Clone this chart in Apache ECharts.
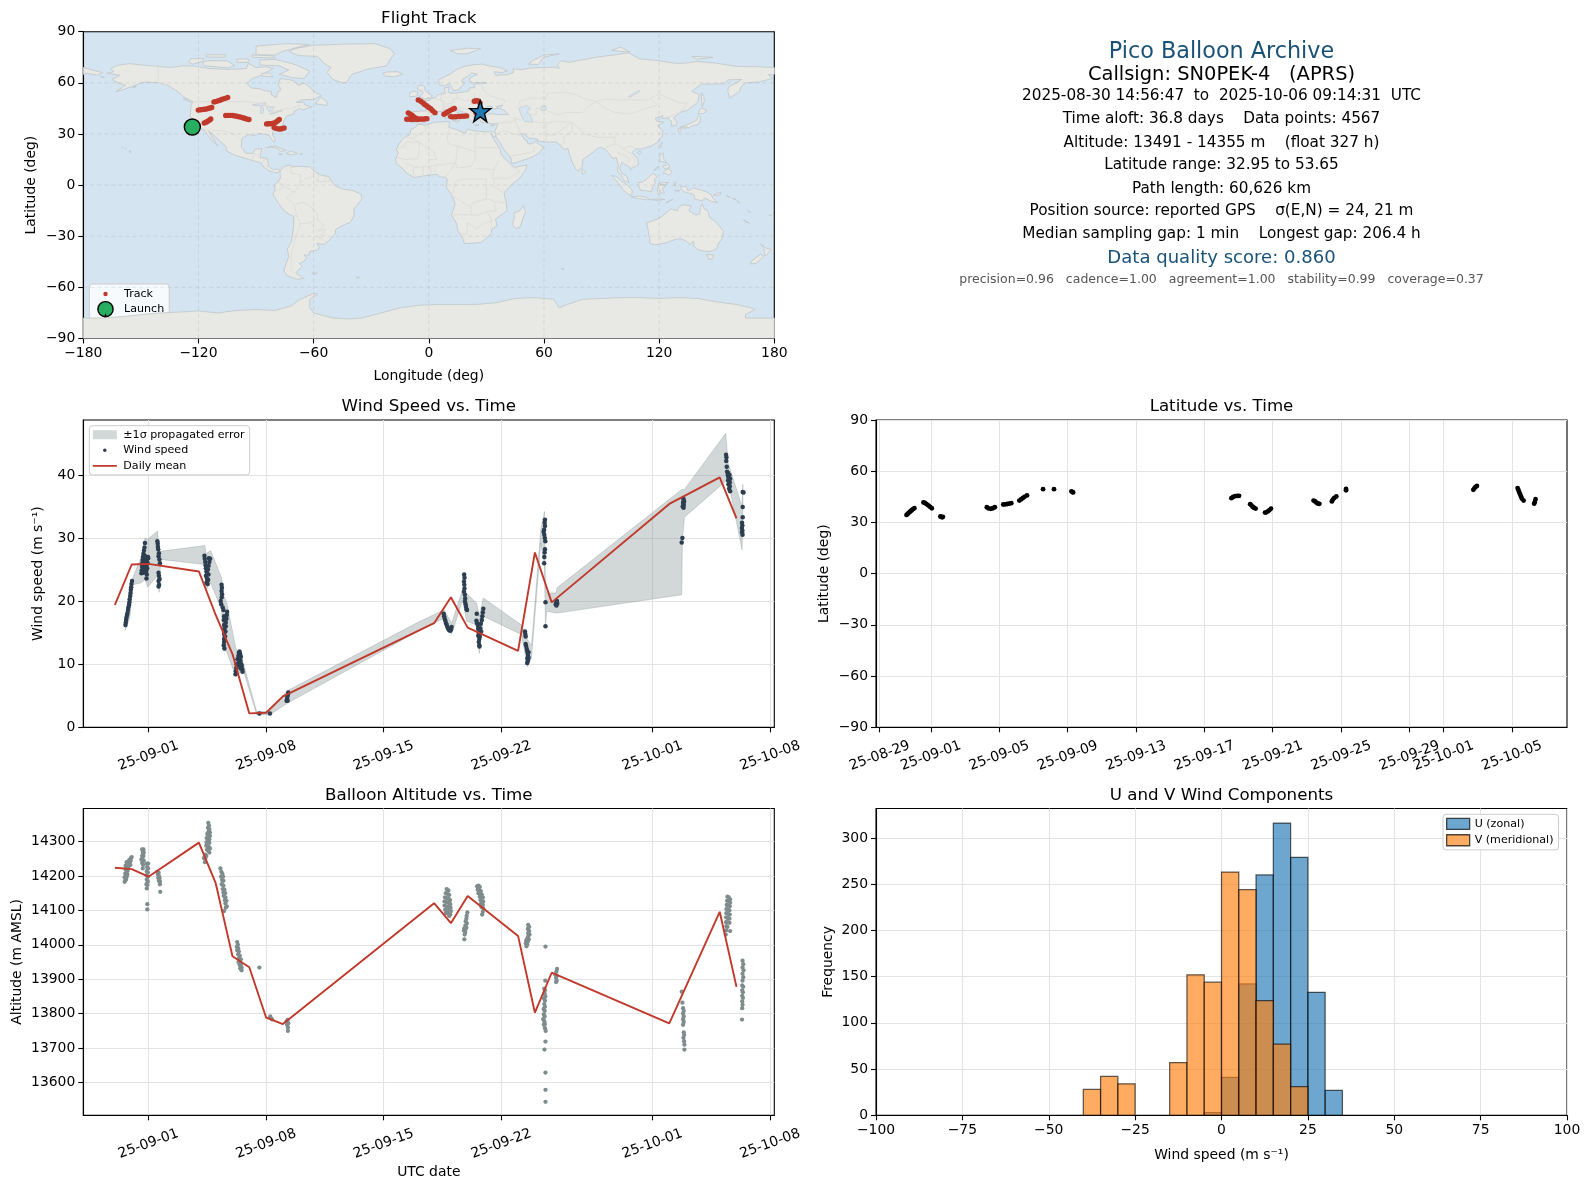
<!DOCTYPE html>
<html><head><meta charset="utf-8">
<script src="https://cdn.jsdelivr.net/npm/echarts@6/dist/echarts.min.js"></script>
<style>html,body{margin:0;padding:0;background:#fff}#c{width:1589px;height:1189px}</style>
</head><body><div id="c"></div>
<script>
// ---------- DATA (time values are days from 2025-09-01 00:00 UTC) ----------
const windSamples = [
[-1.37,16.2],[-1.35,16.6],[-1.33,17],[-1.31,17.4],[-1.28,17.8],[-1.25,18.1],[-1.22,18.6],[-1.2,19],[-1.16,19.4],[-1.14,19.8],[-1.12,20.3],[-1.09,20.8],[-1.07,21.3],[-1.05,21.8],[-1.03,22.2],[-1.01,22.7],[-0.98,23.2],
[-0.42,24.4],[-0.4,24.9],[-0.38,25.5],[-0.37,26],[-0.35,26.5],[-0.33,27],[-0.3,27.5],[-0.27,28],[-0.24,28.5],[-0.21,29.2],[-0.32,24.5],[-0.28,25],[-0.3,25.6],[-0.25,26],[-0.26,26.6],[-0.22,27.2],
[-0.12,23.6],[-0.1,24.2],[-0.13,24.8],[-0.08,25.2],[-0.12,25.6],[-0.05,26],[-0.1,26.3],[-0.02,26.8],[-0.03,27],[-0.15,26.4],[-0.18,25.4],[-0.16,24.6],
[0.53,29.5],[0.55,29.1],[0.56,28.6],[0.58,28.2],[0.62,27.6],[0.6,27.1],[0.65,26.6],[0.68,26],[0.6,24.5],[0.62,24],[0.66,23.5],[0.6,23.2],[0.63,22.6],[0.6,22.3],
[3.33,27.2],[3.35,26.7],[3.38,26.2],[3.4,25.7],[3.42,25.2],[3.45,24.7],[3.5,24.3],[3.42,24],[3.48,23.6],[3.5,23.2],[3.45,22.9],[3.52,22.7],[3.55,23.4],[3.57,24.2],[3.54,25],[3.58,25.6],[3.62,26.2],[3.67,26.7],[3.6,26.8],
[4.35,22.6],[4.37,22.1],[4.35,21.6],[4.38,21.1],[4.36,20.6],[4.3,20],[4.33,19.5],[4.42,19],[4.46,18.6],[4.68,18.3],[4.66,17.8],[4.5,17.6],[4.64,17.2],[4.48,17],[4.6,16.6],[4.5,16.2],[4.6,16],[4.52,15.6],[4.58,15.2],[4.5,14.8],[4.56,14.4],[4.5,14],[4.5,13.5],[4.48,13],[4.52,12.5],
[5.18,8.4],[5.2,8.9],[5.22,9.4],[5.25,10],[5.3,10.8],[5.35,11.3],[5.38,11.8],[5.42,12],[5.46,11.6],[5.5,11.2],[5.42,11.2],[5.48,10.6],[5.4,10.4],[5.52,10],[5.55,9.7],[5.58,9.2],[5.6,8.8],[5.4,9.8],[5.48,9.3],[5.35,10],
[6.6,2.2],[7.23,2.2],
[8.22,4.2],[8.25,4.5],[8.27,4.9],[8.3,5.2],[8.32,5.5],[8.28,4.2],
[17.57,18],[17.6,17.6],[17.63,17.2],[17.67,16.9],[17.71,16.5],[17.75,16.2],[17.79,15.9],[17.84,15.6],[17.9,15.4],[17.96,15.3],[18.01,15.5],[18.04,15.9],
[18.79,24.2],[18.81,23.7],[18.78,23.1],[18.8,22.6],[18.81,22],[18.78,21.5],[18.83,21],[18.85,20.4],[18.84,19.9],[18.88,19.5],[18.9,19.1],[18.93,18.7],[18.96,18.6],
[19.54,18],[19.52,16.9],[19.56,16.5],[19.6,16.2],[19.62,15.6],[19.66,15],[19.63,14.5],[19.69,14],[19.66,13.5],[19.69,13],[19.7,12.8],[19.75,15.7],[19.78,16.4],[19.72,14.4],[19.8,15.2],[19.84,17],[19.87,17.6],[19.9,18.2],[19.93,18.8],
[22.41,15.2],[22.43,14.8],[22.45,14.4],[22.45,13.2],[22.48,12.9],[22.52,12.4],[22.55,12],[22.58,11.6],[22.62,11.9],[22.6,11.2],[22.55,10.9],[22.58,10.5],[22.54,10.2],[22.62,11],
[23.6,32.9],[23.58,32.4],[23.6,31.9],[23.55,31.3],[23.52,31],[23.56,30.5],[23.59,30],[23.62,29.5],[23.6,28.2],[23.58,27.7],[23.56,27],[23.55,26],[23.63,19.8],[23.63,16],
[24.24,19.5],[24.27,19.7],[24.3,19.9],[24.28,19.3],[24.33,19.6],[24.31,20],
[31.74,29.3],[31.78,30],[31.83,36.3],[31.86,36],[31.82,35.6],[31.86,35.3],[31.8,35],[31.85,34.8],[31.88,35.8],[31.84,35.1],
[34.38,43.2],[34.4,42.8],[34.39,42.2],[34.42,41.3],[34.44,40.5],[34.48,40],[34.52,39.6],[34.5,39.1],[34.55,39.2],[34.6,38.8],[34.52,38.5],[34.6,38.2],[34.56,37.8],[34.62,37.4],[34.5,40.3],[34.58,40],[34.62,39.4],
[35.42,37.2],[35.37,37.3],[35.37,34.9],[35.37,33.3],[35.33,32.4],[35.35,32],[35.32,31.6],[35.35,31.2],[35.33,30.9],[35.36,30.5]
];
const bandDays = [-1.38,-1.1,-0.94,-0.41,-0.21,-0.05,0.53,0.64,0.72,3.36,3.42,3.7,4.35,4.45,4.65,5.2,5.64,6.44,7.23,8.26,16.16,17.59,18.05,18.7,18.94,19.53,19.69,19.93,22.2,22.55,22.8,23.35,23.57,23.63,23.7,24.26,24.32,31.74,31.78,31.9,34.36,34.5,35.33,35.38];
const bandLow  = [15.4,17.5,22.6,22.9,23.5,22.2,24,21.4,26.6,25.8,21.8,22.9,18.6,12.3,12,8,9.1,2,2,3.8,15.4,17.3,14.8,20.2,16.8,16.2,11.7,17.6,14.7,9.6,11,29.2,25.5,16,18.4,18.1,18.1,21,29.5,33.3,39,39.2,28.1,35];
const bandHigh = [17,21.2,23.7,27.1,30,29.8,31.1,27.9,27.9,28.8,27.5,28,23.7,21,19.9,12.5,10.2,2.5,2.5,5.8,16.8,18.6,16.5,21.9,21.2,19.7,17.6,20.5,16.2,13.9,13,31.3,34.2,21.8,21.3,21.3,22.1,37.7,37.7,37.7,46.6,41.9,35,38.5];
const windMeanDays = [-2,-1,0,3,4,5,6,7,8,17,18,19,22,23,24,31,34,35];
const windMean = [19.4,25.8,25.9,24.7,17.8,11.6,2.2,2.3,4.9,16.5,20.6,15.8,12.1,27.7,19.8,35.4,39.6,33.1];
const altMeanDays = windMeanDays;
const altMean = [14224,14220,14198,14297,14179,13967,13935,13789,13770,14121,14063,14142,14026,13803,13919,13772,14096,13878];
const altSamples = [
[-1.42,14183],[-1.38,14187],[-1.34,14190],[-1.42,14196],[-1.36,14200],[-1.3,14197],[-1.38,14207],[-1.32,14210],[-1.26,14204],[-1.38,14220],[-1.32,14222],[-1.24,14215],[-1.36,14230],[-1.28,14232],[-1.2,14226],[-1.14,14232],[-1.22,14240],[-1.12,14240],[-1.06,14244],[-1.14,14247],[-1.04,14252],[-1,14255],[-1.08,14232],[-1.3,14240],
[-0.38,14277],[-0.3,14277],[-0.34,14268],[-0.28,14268],[-0.38,14258],[-0.3,14258],[-0.42,14248],[-0.34,14248],[-0.28,14244],[-0.38,14238],[-0.32,14232],[-0.34,14222],
[-0.1,14236],[-0.02,14236],[-0.08,14226],[-0.02,14222],[-0.1,14214],[-0.03,14210],[-0.12,14202],[-0.04,14198],[-0.1,14190],[-0.04,14184],[-0.12,14176],[-0.06,14174],[-0.1,14164],[-0.07,14118],[-0.07,14103],
[0.52,14212],[0.6,14210],[0.56,14204],[0.62,14200],[0.58,14194],[0.66,14194],[0.62,14186],[0.68,14184],[0.68,14176],[0.7,14154],
[3.56,14354],[3.6,14346],[3.54,14340],[3.62,14336],[3.58,14330],[3.66,14326],[3.5,14322],[3.58,14318],[3.66,14316],[3.46,14310],[3.54,14306],[3.62,14306],[3.46,14298],[3.54,14296],[3.62,14296],[3.44,14288],[3.52,14286],[3.6,14284],[3.66,14280],[3.48,14276],[3.56,14274],[3.62,14268],[3.38,14262],[3.44,14258],[3.3,14252],[3.38,14250],[3.36,14240],
[4.28,14222],[4.34,14212],[4.4,14206],[4.32,14198],[4.44,14198],[4.38,14188],[4.46,14186],[4.36,14176],[4.46,14172],[4.42,14162],[4.52,14160],[4.46,14152],[4.56,14150],[4.48,14142],[4.58,14138],[4.54,14130],[4.64,14128],[4.58,14120],[4.66,14112],[4.6,14108],[4.5,14098],
[5.28,14008],[5.32,14000],[5.26,13994],[5.34,13990],[5.28,13984],[5.38,13980],[5.34,13972],[5.44,13968],[5.38,13960],[5.5,13958],[5.36,13950],[5.46,13950],[5.42,13942],[5.5,13942],[5.46,13932],[5.54,13934],[5.54,13926],
[6.6,13934],[7.25,13792],[7.35,13784],
[8.22,13778],[8.28,13782],[8.32,13772],[8.25,13768],[8.3,13760],[8.3,13750],
[17.75,14162],[17.85,14158],[17.7,14150],[17.8,14148],[17.9,14145],[17.65,14138],[17.76,14136],[17.86,14134],[17.95,14130],[17.62,14126],[17.74,14124],[17.86,14122],[17.96,14118],[17.62,14114],[17.74,14112],[17.86,14110],[17.98,14108],[17.66,14102],[17.78,14100],[17.9,14098],[18,14098],[17.7,14092],[17.84,14090],[17.96,14088],[17.9,14084],
[18.98,14094],[18.94,14084],[18.92,14076],[18.88,14068],[18.95,14062],[18.86,14056],[18.92,14050],[18.8,14048],[18.86,14044],[18.78,14042],[18.85,14036],[18.82,14030],[18.8,14016],
[19.56,14170],[19.64,14172],[19.72,14168],[19.6,14160],[19.7,14158],[19.78,14156],[19.64,14150],[19.74,14148],[19.84,14146],[19.72,14140],[19.82,14136],[19.9,14138],[19.76,14130],[19.86,14126],[19.92,14126],[19.8,14120],[19.9,14116],[19.82,14110],[19.92,14106],[19.9,14096],[19.86,14088],
[22.6,14058],[22.66,14052],[22.58,14046],[22.66,14040],[22.6,14034],[22.68,14030],[22.6,14024],[22.54,14018],[22.64,14016],[22.48,14012],[22.58,14010],[22.46,14004],[22.54,14002],[22.5,13996],
[23.63,13995],[23.62,13896],[23.56,13873],[23.6,13868],[23.58,13858],[23.62,13850],[23.54,13844],[23.6,13838],[23.56,13828],[23.6,13820],[23.52,13814],[23.58,13808],[23.53,13798],[23.58,13792],[23.5,13784],[23.56,13778],[23.6,13770],[23.53,13768],[23.6,13758],[23.64,13750],[23.63,13719],[23.57,13696],[23.63,13629],[23.63,13579],[23.63,13544],
[24.32,13930],[24.28,13922],[24.22,13914],[24.3,13910],[24.26,13904],[24.3,13896],[24.26,13892],
[31.74,13864],[31.78,13832],[31.82,13816],[31.86,13808],[31.82,13800],[31.86,13792],[31.82,13784],[31.86,13776],[31.82,13768],[31.86,13746],[31.88,13738],[31.84,13730],[31.88,13720],[31.9,13710],[31.9,13696],
[34.46,14140],[34.54,14138],[34.62,14132],[34.44,14128],[34.52,14128],[34.62,14122],[34.42,14116],[34.5,14114],[34.6,14112],[34.4,14104],[34.48,14102],[34.58,14100],[34.4,14092],[34.5,14090],[34.6,14088],[34.38,14080],[34.46,14078],[34.58,14076],[34.38,14066],[34.46,14066],[34.58,14064],[34.4,14054],[34.46,14052],[34.38,14042],[34.62,14040],[34.36,14030],
[35.36,13954],[35.4,13944],[35.36,13934],[35.42,13926],[35.36,13916],[35.4,13906],[35.36,13896],[35.34,13882],[35.4,13878],[35.34,13868],[35.38,13862],[35.34,13852],[35.38,13846],[35.34,13836],[35.36,13826],[35.34,13816],[35.33,13783]
];
const latSamples = [
[-1.43,34.4],[-1.36,35],[-1.3,35.6],[-1.24,36.1],[-1.18,36.7],[-1.12,37.2],[-1.05,37.8],[-0.97,38.3],
[-0.44,41.7],[-0.36,41.4],[-0.28,40.9],[-0.2,40.3],[-0.12,39.7],[-0.04,39],[0.05,38.3],
[0.55,33.5],[0.6,33.2],[0.66,33],[0.7,33.3],
[3.27,38.9],[3.38,38.2],[3.5,38],[3.62,38.3],[3.74,38.9],
[4.23,40.5],[4.35,40.6],[4.47,40.8],[4.58,41],[4.7,41.3],
[5.17,42.8],[5.27,43.5],[5.37,44.2],[5.47,45],[5.62,45.8],
[6.56,49.5],[7.2,49.5],[8.22,48.2],[8.28,47.8],[8.32,47.6],
[17.58,44.2],[17.68,44.9],[17.8,45.4],[17.92,45.5],[18.03,45.6],
[18.68,40.7],[18.75,40],[18.82,39.2],[18.9,38.6],[19,38.1],
[19.55,35.8],[19.62,35.9],[19.72,36.5],[19.8,37.2],[19.9,38.1],
[22.39,42.8],[22.48,42.3],[22.56,41.6],[22.65,41],[22.73,40.9],
[23.46,42.3],[23.52,43.4],[23.6,44.3],[23.72,45.2],
[24.29,48.8],[24.29,49.6],
[31.74,49.1],[31.8,50],[31.87,50.8],[31.95,51.4],
[34.33,50.1],[34.38,48.9],[34.43,47.6],[34.48,46.4],[34.53,45.2],[34.58,44],[34.68,42.8],
[35.3,41],[35.34,42],[35.38,43.6]
];
const trackLonLat = [
[-117,36.4],[-116,36.9],[-115.2,37.5],[-114.3,38.1],[-113.6,38.8],
[-120.1,44],[-119,44.2],[-118,44.3],[-117,44.5],[-116,44.6],[-115,44.9],[-114,45.2],[-113.1,45.5],
[-111.9,48.8],[-111,49],[-110,49.4],[-109,49.7],[-108,50.2],[-107,50.6],[-106,50.9],[-104.8,51.4],
[-105.8,40.8],[-104.6,40.9],[-103.4,40.9],[-102.2,40.8],[-101,40.6],[-100.1,40.4],[-99,40.1],[-98,39.9],[-97,39.5],[-96,39.2],[-95,38.8],[-93.7,38.5],
[-84.5,35.9],[-83.5,36],[-82.5,36],[-81.5,36.2],[-80.5,36.5],[-79.5,37],[-78.7,37.8],[-77.9,38.5],
[-80.6,33.8],[-79.6,33.3],[-78.6,33],[-77.6,32.95],[-76.6,33.1],[-75.4,33.5],
[-10.7,42.4],[-9.7,41.6],[-8.8,41],[-8,40.2],[-7,39.4],[-6,38.8],[-5.5,38.6],
[-11.5,38.6],[-10.2,38.7],[-9,38.5],[-7.8,38.6],[-6.5,38.7],[-5.2,38.6],[-4,38.8],[-2.8,38.7],[-1.8,39],[-1,39],
[-5.5,50],[-4.2,49.2],[-3,48.2],[-2,47.2],[-1,46.4],[0,45.6],[1,44.8],[2,43.6],[3.2,42.5],
[7.9,41.6],[9,42.3],[10,43],[11,43.7],[12.2,44.4],[13.3,45],
[11.4,40.2],[12.5,40],[14,40.1],[15.5,40.3],[17,40.4],[18.4,40.4],[19.7,40.6],
[23.7,49.2],[24.7,49.5],[25.7,49.3],[26.7,48.2],[24.6,42.5],[25.5,42.7]
];
const launchPoint = [-123.2,34.1];
const lastFixPoint = [26.8,43.4];
const uBinStart = [-5,0,5,10,15,20,25,30];
const uCounts   = [3,41,142,260,316,279,133,27];
const vBinStart = [-40,-35,-30,-15,-10,-5,0,5,10,15,20];
const vCounts   = [28,42,34,57,152,144,263,244,124,77,31];
const lonTicks = [-180,-120,-60,0,60,120,180];
const latTicks = [-90,-60,-30,0,30,60,90];
const windTicks = [0,10,20,30,40];
const altTicks = [13600,13700,13800,13900,14000,14100,14200,14300];
const histXTicks = [-100,-75,-50,-25,0,25,50,75,100];
const histYTicks = [0,50,100,150,200,250,300];
const wideDateTicks = ['2025-09-01','2025-09-08','2025-09-15','2025-09-22','2025-10-01','2025-10-08'];
const latDateTicks = ['2025-08-29','2025-09-01','2025-09-05','2025-09-09','2025-09-13','2025-09-17','2025-09-21','2025-09-25','2025-09-29','2025-10-01','2025-10-05'];
const infoLines = [
 ['Pico Balloon Archive',52.5,22.3,'#1a5276'],
 ['Callsign: SN0PEK-4   (APRS)',75.3,19.45,'#000'],
 ['2025-08-30 14:56:47  to  2025-10-06 09:14:31  UTC',96.5,15.28,'#000'],
 ['Time aloft: 36.8 days    Data points: 4567',119.5,15.28,'#000'],
 ['Altitude: 13491 - 14355 m    (float 327 h)',142.7,15.28,'#000'],
 ['Latitude range: 32.95 to 53.65',165.5,15.28,'#000'],
 ['Path length: 60,626 km',188.7,15.28,'#000'],
 ['Position source: reported GPS    σ(E,N) = 24, 21 m',211.5,15.28,'#000'],
 ['Median sampling gap: 1 min    Longest gap: 206.4 h',234.3,15.28,'#000'],
 ['Data quality score: 0.860',258.7,18.06,'#1a5276'],
 ['precision=0.96   cadence=1.00   agreement=1.00   stability=0.99   coverage=0.37',279.5,12.5,'#555']
];
// Coastlines as lon/lat rings
const landRings = [
[[-168,65.5],[-164,66.5],[-166,68.3],[-162,70.3],[-156,71.3],[-150,70.5],[-141,69.7],[-135,69],[-128,70],[-122,69.8],[-115,68.5],[-108,68],[-100,68],[-95,68.5],[-94,71.5],[-90,69],[-85,69.5],[-81,68.5],[-85,66],[-87,64.5],[-92,62.5],[-94.5,60],[-94,58.7],[-92.5,57],[-88,56.5],[-85,55.3],[-82,55],[-82,52.9],[-79.5,51.3],[-79,54],[-77,56],[-78.5,58.8],[-77.5,62.4],[-73,62],[-70,61],[-68,58.5],[-65,60],[-62,57.5],[-60,55],[-56,52.5],[-60,50.2],[-66,50],[-69,48.5],[-65,48.5],[-64.5,47],[-61,45.8],[-66,44],[-67,45],[-70,43.5],[-70.5,41.7],[-74,40.5],[-75.5,38],[-76,35.5],[-78,34],[-81,32],[-81.5,30],[-80,26.8],[-80.5,25.2],[-82,27],[-83,29],[-85,29.7],[-89,30.3],[-90,29.2],[-94,29.6],[-97.3,27.5],[-97.7,22.5],[-95.5,18.8],[-91.5,18.5],[-90.5,21],[-87,21.5],[-88,16],[-84,15.8],[-83.5,11],[-81,9],[-79,9.5],[-77.3,8.6],[-78.5,7.5],[-80,7.3],[-83,8.2],[-85.5,10],[-87.5,13],[-92,14.5],[-96,15.8],[-101,17.5],[-105.5,20],[-105.5,22.5],[-109,26],[-112.7,30],[-114.8,31.7],[-112.5,27.5],[-110,23],[-112,25],[-115,29],[-117.2,32.5],[-120.5,34.5],[-122.5,37.5],[-124.3,40.5],[-124,46],[-123,49],[-128,52],[-131,55],[-136,58.5],[-141,60],[-148,60.5],[-152,59],[-158,56.5],[-163,54.8],[-158,58.7],[-162,60],[-165,62],[-161,64.5]],
[[-9,37],[-9.5,38.7],[-8.8,41.5],[-9.2,43],[-4,43.5],[-1.5,43.4],[-1.2,46],[-2.5,47.3],[-4.7,48.4],[-1.5,48.7],[-1.5,49.7],[0.2,49.6],[1.6,50.9],[3.5,51.4],[4.7,52.9],[7,53.6],[8.7,53.9],[8.2,55.5],[8.2,57],[10.5,57.7],[10.3,56],[10,54.6],[11,54],[14,54],[18.5,54.7],[21,55.3],[21,57],[24,57.2],[23.5,59.2],[28,59.6],[30.2,60],[25,60.2],[22.9,59.9],[21.3,61],[21.3,62.8],[25.3,65],[22.3,65.8],[21,64.5],[17.5,62],[17.2,60.7],[18.8,59.8],[16.6,57.5],[16,56.2],[14.3,55.5],[12.8,55.5],[11.2,58.9],[10.5,59.5],[8,58.1],[5.5,59],[5,61.5],[8,63.5],[11,65],[14,67.5],[18,69.5],[23,70.6],[28,71],[31,70],[37,69],[41,67],[38,66],[34,66.5],[35,64.3],[38,64.8],[40.5,64.6],[44,66],[44,68.3],[48,67.7],[53,68.7],[60,69],[65,69.2],[68,68.5],[67,71],[69,73],[73,72],[75,72.5],[80,73.5],[87,75],[94,76],[104,77.6],[110,74],[113,73.7],[120,73],[128,71.5],[133,71.5],[140,72.5],[150,71.5],[160,69.7],[170,69.5],[180,69],[180,65],[177,64.7],[179,62.5],[172,60.5],[165,60],[163,58],[162,55],[158,52],[156.7,51],[155.8,55],[156,57.5],[161,60.5],[163,62],[156,61.7],[154,59.5],[148,59.3],[142,59.2],[137,55],[141,53],[140,48.5],[135,44],[131,42.7],[129.5,41],[127.5,39.7],[129.4,37],[129,35.2],[126.5,34.5],[126.5,37.5],[125,38.5],[125,39.7],[121.5,39],[122,40.7],[118,39.2],[119,37.3],[122.5,37],[119.3,35],[122,31.5],[121.5,28.5],[119,25],[116,22.9],[113,22],[110,21],[108,21.5],[105.8,19],[108.8,15.5],[109.3,12],[106,10],[105,8.7],[105,10.3],[102.5,12],[100.8,13.5],[100,12],[99.5,9.5],[100.5,7],[103.2,5],[104.2,1.4],[101.5,2.8],[100.3,5.8],[98.3,8],[98.7,12],[97.7,16],[95.5,15.8],[94.3,18],[92,21],[90,22],[88,21.7],[86.5,20],[82.3,16.7],[80.2,15],[80,11],[77.6,8],[76,10.5],[74.5,14],[73,19],[72.6,21.3],[70,21],[68.8,23.2],[66.5,25.3],[61.5,25.2],[57.5,25.7],[56.5,27],[52,27.5],[50,30],[48,30],[50,26.5],[51.3,26],[51.5,24.3],[54,24.2],[56.3,26.2],[56.6,24.5],[59.8,22.5],[57.8,19],[55,17],[52,15.7],[45,13],[43.3,12.8],[42.7,16],[39,21],[37,25],[35,28],[34.9,29.5],[34.3,31.3],[35,33],[36,36],[32.5,36],[30.5,36.5],[27.5,36.8],[26.3,39.3],[29,41],[33,42],[36,41.3],[41.5,41.5],[39,44],[37,45],[38.5,47],[35,46],[36.5,45.2],[33.5,44.5],[33,46],[30.8,46.5],[28.7,44],[28,41.7],[26.2,40.7],[24,40.8],[23,40.3],[24,38],[22.8,36.5],[21,38.5],[19.4,41],[19.5,42],[15.5,44],[13.7,45.6],[12.3,45.3],[12.3,44.2],[16,41.8],[18.4,40.1],[16.6,40],[17,39],[15.8,38],[15.8,40],[12.5,41.5],[10.5,42.8],[8.8,44.4],[6.5,43.2],[3.2,43.2],[3,41.8],[0,40],[-0.3,38.7],[-2,36.8],[-5.5,36],[-6.5,37]],
[[-6,35.8],[-2,35.2],[3,36.9],[10,37.3],[11,36.9],[10.3,34],[15,32.3],[19,30.3],[20,32.8],[25,31.7],[30,31.2],[32.5,31.2],[34.3,31.3],[34.9,29.5],[34.3,28],[32.6,29.9],[33.8,27],[35.8,23.5],[37.3,21],[37.5,18.5],[39.5,15.5],[43,12],[43.3,11.5],[44.5,10.4],[51.2,11.8],[50.5,9],[47.5,4.2],[42,-1],[39.3,-4.5],[39.5,-7],[40.5,-10.5],[40.7,-15],[36.5,-18.5],[34.8,-20],[35.5,-24],[32.8,-25.8],[32.5,-28.5],[30,-31.3],[27,-33.7],[22,-34.2],[18.5,-34.3],[18,-32],[15,-26.5],[14.5,-22.5],[11.8,-17.5],[13.7,-11],[12,-6],[9,-1],[9.7,3.5],[8.5,4.6],[5.5,4.8],[4.5,6.3],[1,5.9],[-4,5.2],[-7.5,4.4],[-11.5,6.9],[-13.5,9.5],[-16.7,12.5],[-17.4,14.7],[-16,19],[-17,21.2],[-14.5,26],[-13,27.8],[-9.7,29.8],[-9.5,32.5],[-6.5,34.3]],
[[-77.3,8.6],[-75.5,10.8],[-72,12],[-71.5,10.7],[-68,11],[-62,10.7],[-60,8.5],[-57,6],[-52,5],[-50,1],[-48,-1],[-44,-2.5],[-40,-3],[-35.3,-5.3],[-34.8,-8],[-37,-11.5],[-39,-14],[-39,-18],[-41,-22],[-44,-23.2],[-48.5,-26],[-48.8,-28.6],[-52.5,-33],[-54.5,-34.9],[-58.4,-34.2],[-57,-36.5],[-57.7,-38],[-62,-39],[-62.3,-41],[-65,-41],[-63.7,-42.7],[-65.3,-45],[-67.5,-46],[-65.8,-47.5],[-69,-51],[-68.3,-52.5],[-65.2,-54.8],[-69,-55.3],[-74,-53],[-75.5,-50],[-74,-45],[-73,-42],[-73.7,-37.5],[-71.5,-33],[-70.5,-25],[-70.3,-18.5],[-75,-15.5],[-77.5,-12],[-81,-6],[-81,-4.3],[-80,-2.5],[-80.5,0],[-78.5,2],[-77.3,4],[-77.5,7]],
[[-73,78.5],[-68,76],[-58,75.5],[-54,71],[-51,69],[-53,66],[-50,62],[-45,60],[-43,60],[-40,65],[-32,68],[-22,70],[-20,74],[-18,77],[-20,80],[-28,83],[-45,82.7],[-60,82],[-68,80.5]],
[[-80,73.7],[-72,71.5],[-68,70],[-62,66.8],[-65,62.5],[-71,63],[-78,65],[-73,67.5],[-78,70],[-88,70.5],[-88,73.5]],
[[-117,70],[-105,68.8],[-101,70],[-105,73],[-115,73],[-118,72]],
[[-125,72],[-123,71],[-118,72.5],[-117,74.2],[-124,74.2]],
[[-90,76.5],[-80,76.3],[-76,78.5],[-68,81],[-62,82.5],[-75,83],[-90,81.5],[-90,79]],
[[-92,75],[-80,74.6],[-81,75.8],[-92,76.4]],
[[-116,75.2],[-106,75],[-106,76.5],[-116,76.5]],
[[-100,72],[-94,72],[-94,74],[-100,74]],
[[-87,64],[-81,63.5],[-83,65.8],[-87,65.5]],
[[-59,47.7],[-53,46.7],[-53,49],[-56,51.5],[-58,49.5]],
[[-128,50.5],[-123.5,48.4],[-125,50.3]],
[[-85,21.9],[-80,23.1],[-74.2,20.2],[-77.5,19.9],[-78.5,21.5],[-82,22.4]],
[[-74.4,18.5],[-72,20],[-68.4,18.6],[-71.5,17.8]],
[[-78.3,18.3],[-76.3,18.1],[-77,17.8]],
[[-67.2,18.4],[-65.7,18.3],[-66.5,17.9]],
[[-24,65.5],[-22,66.4],[-16,66.5],[-13.6,65],[-18,63.5],[-22.5,63.9]],
[[-5.7,50],[1.3,51.2],[1.7,52.7],[0,53.5],[-2,55.8],[-2,57.6],[-3.5,58.6],[-5.2,58.5],[-6,56.5],[-3,54.9],[-3.2,53.4],[-5,52],[-3.2,51.3]],
[[-10,51.8],[-6.2,52.2],[-5.7,54.6],[-8,55.2],[-10,54]],
[[11,79],[20,80.3],[27,80],[20,77],[15,77]],
[[52,71],[57,70.7],[60,75],[68,77],[60,76.3],[54,73]],
[[95,79],[105,78],[100,81]],
[[137,75.5],[148,75],[140,73.8]],
[[12.5,38],[15.5,38.2],[15,36.7]],
[[8.3,41],[9.7,41],[9.5,39.1],[8.5,39]],
[[8.7,42.9],[9.5,43],[9.3,41.5]],
[[23.6,35.5],[26.2,35.2],[24.5,34.9]],
[[32.3,35],[34.5,35.6],[33.5,34.6]],
[[80,9.7],[81.8,7.5],[80.5,6],[79.8,8]],
[[142,54.3],[143.3,52],[143.5,49],[142.5,46],[142,49.5]],
[[140.3,42],[141.8,45.4],[145,43.8],[143,42]],
[[130.9,34],[135,35.6],[139.5,38],[140.5,41.2],[141.8,39.8],[140.8,35.7],[137,34.6],[135.7,33.5],[132.5,34.2]],
[[130,33.3],[131.8,33.5],[131,31.2],[130.2,31.3]],
[[132.5,33.8],[134.5,34.2],[134,33.3],[133,32.8]],
[[120.2,23],[121.5,25.2],[121.8,24.8],[120.8,22]],
[[108.8,19.3],[110.5,20],[110.8,19],[109.5,18.2]],
[[120.3,16],[120.7,18.5],[122.2,18.4],[122,16],[124,13],[122,13.7],[120.6,14]],
[[122,7],[123.5,8.6],[125.5,9.7],[126.5,7.5],[125.4,5.7],[124,6.5]],
[[122,11],[125,12.5],[125.5,10.5],[123,9.3]],
[[117.2,8.4],[119.5,11.3],[119.5,10.3]],
[[109,1.5],[111,1.6],[113,3.2],[115,5],[116.8,7],[119,5],[117.5,3.5],[118,1],[116.5,-1.5],[116,-4],[113,-3.3],[110.3,-3],[109,0]],
[[95.3,5.6],[97.5,5.2],[100.5,2.2],[103.5,0],[106,-3],[105.8,-5.8],[104,-5.5],[101,-2.5],[98.5,1.5]],
[[105.3,-6.8],[108.5,-6.5],[111,-6.5],[114.5,-7.7],[114.4,-8.7],[108,-7.8]],
[[115,-8.5],[119,-8.3],[123,-8.4],[119,-9]],
[[123.5,-10.3],[127,-8.4],[125,-9.9]],
[[119.8,0.8],[121,1.3],[125,1.6],[123.5,0.4],[120.5,0.3],[123.3,-0.9],[121.5,-2],[122.8,-4.5],[121.6,-4.8],[120.5,-3],[120.3,-5.5],[119.5,-5.5],[119,-3],[119.8,0]],
[[127.5,0.8],[128.5,2],[128.5,-0.8]],
[[128,-3],[130.8,-3.3],[129,-3.5]],
[[131,-0.8],[134,-0.8],[135,-3.3],[138,-1.6],[144.5,-3.8],[147.5,-6],[147.8,-7.5],[150.5,-10.4],[147,-9.5],[144,-7.7],[142.5,-9.2],[138.5,-8.3],[138,-5.5],[133,-4],[132,-2.8]],
[[148.3,-5.6],[152,-4.2],[152,-5.5],[150,-6.3]],
[[155,-6],[157,-7],[156,-7]],
[[158,-7.5],[160,-8.5],[159,-8.5]],
[[160.5,-9],[162,-10.5],[161,-10]],
[[166.5,-15],[167.5,-16],[167,-16]],
[[164,-20.2],[167,-22.3],[165,-21.8]],
[[177.3,-17.5],[178.6,-17.8],[178,-18.3]],
[[113.5,-22],[114.2,-26],[115,-31.5],[115.2,-34.3],[118,-35],[123.5,-33.9],[129,-31.6],[131.5,-31.5],[134,-32.8],[136,-34.8],[138,-33],[138,-35.6],[140,-37.8],[143.5,-38.8],[146.4,-39],[150,-37.3],[151,-34],[153,-31],[153.5,-27],[151,-23.5],[149,-21],[146.3,-19],[145.3,-15],[143.5,-14],[142.5,-10.8],[141.6,-13],[141,-17],[139,-17.5],[135.5,-15],[136.8,-12.2],[132.5,-11.5],[130,-13],[129.5,-15],[126,-14],[122,-18],[119,-20],[114.5,-21.8]],
[[144.7,-40.7],[148.3,-40.9],[148,-43],[146,-43.6]],
[[172.8,-34.5],[175.8,-37],[178.3,-37.7],[176.9,-40],[175.2,-41.6],[174.8,-39.5],[174.5,-37]],
[[172.7,-40.6],[174.3,-41.7],[172.8,-43.8],[170.5,-46],[167.5,-46.3],[168.5,-44.2]],
[[49.3,-12],[50.4,-15.5],[47.5,-24.7],[45.2,-25.5],[43.5,-23.3],[44.5,-19.5],[44.5,-16.3],[47.5,-15]],
[[-156,20.2],[-155,19.6],[-155.7,19]],
[[-159.8,22.2],[-159.2,22],[-159.5,21.8]],
[[-158.2,21.6],[-157.7,21.4],[-158,21.2]],
[[69,-48.9],[70.5,-49.2],[69.5,-49.6]],
[[-61,-51.7],[-58,-51.5],[-59,-52.3]],
[[-38,-54],[-36,-54.2],[-37,-54.6]],
[[-180,65],[-180,69],[-175,67.5],[-170,66],[-172.5,64.5],[-178,65.5]],
[[-171,63.8],[-169,63.3],[-170,63.2]],
[[-154.5,57.5],[-152.5,58],[-153,57.2]],
[[-180,-90],[-180,-78],[-170,-78],[-158,-77],[-150,-76],[-140,-75],[-130,-74.5],[-120,-73.8],[-110,-75],[-100,-73.5],[-90,-73],[-80,-73.5],[-72,-71],[-67,-67],[-60,-63.5],[-58,-64],[-62,-67],[-62,-72],[-60,-75],[-50,-78],[-42,-78.5],[-35,-78],[-28,-76],[-15,-72],[-5,-70.5],[5,-70],[15,-70],[25,-70],[35,-69],[45,-66.5],[55,-66],[65,-67],[68,-72],[72,-70],[75,-69],[80,-67],[90,-66.5],[100,-66],[110,-66],[120,-66.5],[130,-66],[140,-66.5],[150,-68.5],[160,-70],[168,-72],[170,-73],[165,-76],[165,-78],[180,-78],[180,-90]]
];
const inlandSeas = [
[[47,45],[51,46.8],[53,45],[51,43],[53,41],[54,37],[50,37.3],[49,39],[47.5,43]],
[[58.5,46],[61,46.5],[61,44],[58.5,44]],
[[104,52],[109,55.5],[110,55],[105,51.6]],
[[-92,47],[-85,48.5],[-85,46.5],[-90,46.6]],
[[-87.5,46],[-86,45],[-86.5,42],[-87.7,42]],
[[-84.5,46],[-80.5,45.8],[-81.8,43.2],[-83.5,43.5]],
[[-83,42],[-79,43],[-78.7,42.8],[-82.5,41.5]],
[[-79.5,43.5],[-76.3,44],[-76.5,43.3],[-79.5,43.2]]
];
const borderLines = [
[[-123,49],[-95,49],[-88,48],[-83,46],[-82,43],[-79,43],[-75,45],[-71,45],[-67.5,47],[-67,45]],
[[-141,69.7],[-141,60],[-135,58.5]],[[-117,32.5],[-106,31.7],[-101,29.5],[-97.3,26]],
[[-92,14.5],[-91,18],[-89,18],[-88,16]],[[-87.5,13],[-84,15.8]],[[-85.5,11],[-83.7,11]],[[-83,8.2],[-82.7,9.5]],
[[-72,12],[-72,7],[-67,6],[-67,1],[-70,-4],[-74,-7.5],[-70,-11],[-69,-17]],[[-60,8.5],[-60,5],[-64,4],[-67,1]],[[-57,6],[-58,2]],[[-54,5.5],[-54,2]],[[-52,4.5],[-52,2],[-58,2],[-60,5]],
[[-80,-3.5],[-75,-1],[-70,-4]],[[-78.5,1.5],[-75,0]],[[-69,-11],[-65,-10],[-60,-14],[-58,-17],[-58,-20],[-62,-22],[-67,-22.8],[-69,-17.5],[-70.3,-18.5]],
[[-58,-20],[-54.5,-24],[-58,-27],[-62,-22]],[[-67,-22.8],[-70,-33],[-71.5,-40],[-72,-50],[-68.5,-52.5]],[[-58,-27],[-54,-26],[-58,-33]],[[-57.5,-30],[-53.5,-33.5]],
[[-2,35],[-1.5,32],[-8.7,27.5],[-13,27.7]],[[-8.7,27.5],[-4.8,25],[3,19]],[[-4.8,25],[-12,25.5],[-12,23],[-17,21.3]],[[-16.5,16],[-12,15],[-5.5,15.5],[-4.8,25]],[[3,19],[4,15],[0,15]],
[[11,33],[9.5,30],[10,24.5],[12,23.5],[15,23],[24,19.5],[24,31.5]],[[25,22],[36.8,22]],[[15,23],[14,13],[15,10],[22,11],[24,15],[24,19.5]],[[24,10],[34,9],[33,4],[42,4],[47.5,8],[43,11]],[[36.5,14.5],[34,9]],
[[3,7],[3.5,11.7],[14,13]],[[14,13],[9,5]],[[12.5,-5],[13,-2],[14,2],[18,3.5],[30,3.5],[30,-8],[22,-11],[22,-13],[12,-6]],[[34,4],[34,-1],[39.3,-4.5]],[[30,-8],[34,-9.5],[40.5,-10.5]],
[[11.8,-17.3],[23,-17.5],[25,-18]],[[20,-22],[20,-28.5],[16.5,-28.5]],[[20,-22],[25,-25.5],[29,-22.3],[33,-21]],[[34,-9.5],[35,-15],[30,-15.5],[33,-20],[32,-26]],[[22,-13],[22,-17.5]],[[25,-18],[30,-15.5]],
[[-8,4.5],[-8,10],[-5.5,10.5]],[[-3,5],[-3,11]],[[1,6],[1,11]],[[-12,12.5],[-5.5,10.5],[1,11],[3.5,11.7]],
[[28,60],[28,56],[32,52.3],[40,49.7],[38.5,47]],[[48,45.5],[47,49],[52,51],[61,51],[62,54],[71,54.5],[77,53],[80,51],[87,49],[92,50.5],[98,50],[107,50],[114,50],[120,53.5],[127,50],[131,48],[135,48.3],[131,43]],
[[87,49],[92,45],[97,42.7],[105,41.7],[112,44.5],[119,47],[116,50]],[[53,41.5],[56,41.3],[56,45],[61,44],[67,41],[71,42.8],[80,42.5],[82,45],[87,49]],[[48,38],[44.5,39.5],[46,35],[48,30]],[[61,36.5],[61,31],[61.5,25.2]],[[54,37],[61,36.5]],
[[61,36.5],[67,37.3],[74,37],[71,34],[66,29.5],[61,29.5]],[[74,37],[75,32],[70,28],[71,24.5],[68.5,23.7]],[[74,37],[79,32.5],[81,30],[88,28],[97,28],[97,24],[92,22]],[[98,24],[101,21.5],[105,23],[108,21.5]],[[101,21.5],[105,18.5],[107.5,14.5],[106,11]],[[98,19],[101,18],[105,15],[103,13]],
[[36,36.5],[42,37],[44.5,37.3],[44.5,39.5]],[[35,29.5],[39,32],[47.5,29]],[[43,17],[52,19],[55,20],[55,22.7]],[[125,40],[130,42.5]],
[[-1.7,43.4],[3,42.5]],[[2.5,51],[8,49],[7.5,47.5],[7.5,44]],[[7,53.5],[6,50],[8,49]],[[14.3,54],[15,51],[12.3,50.3],[13.5,48.5],[9.5,47.5],[7.5,47.5]],[[7.5,46],[13.7,46.5]],[[15,51],[19,49.5],[24,50.5],[23.5,54]],[[24,50.5],[22,48],[29,45.5]],[[22,48],[20.5,46],[22.5,44],[28.5,43.8]],[[13.7,45.5],[19.5,45],[22.5,44],[21,40.5]],[[-8.8,42],[-7,41.5],[-7,37.2]]
];

// ---------- HELPERS ----------
const T0 = Date.UTC(2025,8,1);
const dayMs = 864e5;
const toMs = d => T0 + d*dayMs;
const parseDate = s => Date.parse(s+'T00:00:00Z');
const shortDate = v => new Date(v).toISOString().slice(2,10);
const minusFmt = v => String(v).replace('-','\u2212');
const FONT = 'DejaVu Sans';
const LEFT1=83.3, LEFT2=876, W=691;
const grids = [
 {left:LEFT1,top:31.7,width:W,height:306.8,show:true,backgroundColor:'#d4e5f1',borderColor:'#000',borderWidth:1.1,z:0},
 {left:LEFT1,top:420,width:W,height:307.3,show:true,borderColor:'#000',borderWidth:1.1},
 {left:LEFT2,top:420,width:W,height:307.3,show:true,borderColor:'#000',borderWidth:1.1},
 {left:LEFT1,top:808.5,width:W,height:306.8,show:true,borderColor:'#000',borderWidth:1.1},
 {left:LEFT2,top:808.5,width:W,height:306.8,show:true,borderColor:'#000',borderWidth:1.1}
];
const gridLine = {show:true,lineStyle:{color:'#e3e3e3',width:1.1}};
const axisBase = (gi,ticks,min,max,fmt,extra) => Object.assign({
  type:'value',gridIndex:gi,min,max,
  axisLine:{show:true,onZero:false,lineStyle:{color:'#000',width:1.1}},
  axisTick:{show:true,length:5,customValues:ticks,lineStyle:{color:'#000',width:1.1}},
  axisLabel:{show:true,customValues:ticks,formatter:fmt,color:'#000',fontFamily:FONT,fontSize:13.9,margin:8},
  splitLine:gridLine,
  nameTextStyle:{color:'#000',fontFamily:FONT,fontSize:13.9},
  nameLocation:'middle'
},extra||{});
const yLabelPad = a => { a.axisLabel.padding=[3,0,0,0]; return a; };
const wideTicks = wideDateTicks.map(parseDate), latTimeTicks = latDateTicks.map(parseDate);
const dateLabel = (gi,ticks,min,max,extra) => {
  const a = axisBase(gi,ticks,toMs(min),toMs(max),shortDate,extra);
  a.axisLabel = Object.assign(a.axisLabel,{rotate:20,align:'center',verticalAlign:'middle',margin:28.5});
  return a;
};
const xAxes = [
 axisBase(0,lonTicks,-180,180,minusFmt,{name:'Longitude (deg)',nameGap:30.5,splitLine:{show:false}}),
 dateLabel(1,wideTicks,-3.88,37.25),
 dateLabel(2,latTimeTicks,-3.216,37.22),
 dateLabel(3,wideTicks,-3.88,37.25,{name:'UTC date',nameGap:50.5}),
 axisBase(4,histXTicks,-100,100,minusFmt,{name:'Wind speed (m s\u207B\u00B9)',nameGap:33.5})
];
const yAxes = [
 yLabelPad(axisBase(0,latTicks,-90,90,minusFmt,{name:'Latitude (deg)',nameGap:45,splitLine:{show:false}})),
 yLabelPad(axisBase(1,windTicks,0,48.7,String,{name:'Wind speed (m s\u207B\u00B9)',nameGap:38})),
 yLabelPad(axisBase(2,latTicks,-90,90,minusFmt,{name:'Latitude (deg)',nameGap:45})),
 yLabelPad(axisBase(3,altTicks,13505,14396,String,{name:'Altitude (m AMSL)',nameGap:59})),
 yLabelPad(axisBase(4,histYTicks,0,331.8,String,{name:'Frequency',nameGap:41}))
];
const panelTitle = (text,x,y) => ({text,left:x,top:y,textAlign:'center',textVerticalAlign:'middle',padding:0,
  textStyle:{fontFamily:FONT,fontSize:16.67,fontWeight:'normal',color:'#000'}});
const CX1=LEFT1+W/2, CX2=LEFT2+W/2;
const titles = [
 panelTitle('Flight Track',CX1,18.5),panelTitle('Wind Speed vs. Time',CX1,406.5),panelTitle('Latitude vs. Time',CX2,406.5),
 panelTitle('Balloon Altitude vs. Time',CX1,795.5),panelTitle('U and V Wind Components',CX2,795.5)
].concat(infoLines.map(l=>({text:l[0],left:CX2,top:l[1],textAlign:'center',textVerticalAlign:'middle',padding:0,
  textStyle:{fontFamily:FONT,fontSize:l[2],fontWeight:'normal',color:l[3]}})));

// All rings of one layer are drawn as a single custom item holding one child per ring
const ringSeries = (name,rings,style,closed,z) => ({
  type:'custom',name,xAxisIndex:0,yAxisIndex:0,z,silent:true,clip:true,
  data:[[0]],encode:{x:-1,y:-1},
  renderItem:(p,api)=>({type:'group',children:rings.map(r=>({type:closed?'polygon':'polyline',
    shape:{points:r.map(c=>api.coord(c))},style:Object.assign({},style)}))})
});
const graticule = lonTicks.slice(1,-1).map(l=>[[l,-90],[l,90]]).concat(latTicks.slice(1,-1).map(l=>[[-180,l],[180,l]]));
const barSeries = (name,starts,counts,fill,gi,z) => ({
  type:'custom',name,xAxisIndex:gi,yAxisIndex:gi,z,clip:true,
  itemStyle:{color:fill},
  data:starts.map((s,i)=>[s,counts[i]]),encode:{x:0,y:1},
  renderItem:(p,api)=>{
    const a=api.coord([api.value(0),api.value(1)]), b=api.coord([api.value(0)+5,0]);
    return {type:'rect',shape:{x:a[0],y:a[1],width:b[0]-a[0],height:b[1]-a[1]},
      style:{fill,stroke:'rgba(0,0,0,.62)',lineWidth:1.25}};
  }
});
const bandStyle = {fill:'rgba(127,140,141,.35)',stroke:'rgba(127,140,141,.3)',lineWidth:1};
const star = 'M10 0L12.35 6.76L19.51 6.91L13.8 11.24L15.88 18.09L10 14L4.12 18.09L6.2 11.24L0.49 6.91L7.65 6.76Z';
const dotIcon = (w,h,r) => {const cx=w/2,cy=h/2;return `path://M0 0L0.01 0M${w} ${h}L${w-.01} ${h}M${cx-r} ${cy}A${r} ${r} 0 1 0 ${cx+r} ${cy}A${r} ${r} 0 1 0 ${cx-r} ${cy}Z`;};
const boxIcon = (w,h,x0,y0,x1,y1) => `path://M0 0L0.01 0M${w} ${h}L${w-.01} ${h}M${x0} ${y0}L${x1} ${y0}L${x1} ${y1}L${x0} ${y1}Z`;
const starIcon = 'path://M0 0L0.01 0M27 20L26.99 20M13.5 0L15.85 6.76L23.01 6.91L17.3 11.24L19.38 18.09L13.5 14L7.62 18.09L9.7 11.24L3.99 6.91L11.15 6.76Z';
const legendBase = {orient:'vertical',backgroundColor:'rgba(255,255,255,.8)',borderColor:'#ccc',borderWidth:1,borderRadius:3,
  textStyle:{fontFamily:FONT,fontSize:11.1,color:'#000'},selectedMode:false};
const legends = [
 Object.assign({},legendBase,{left:89.3,top:284,padding:[0,5,0,2],itemWidth:27,itemHeight:20,itemGap:-5.5,
   data:[
    {name:'Track',icon:dotIcon(27,20,2.2),itemStyle:{color:'#c0392b',borderWidth:0}},
    {name:'Launch',icon:dotIcon(27,20,7.6),itemStyle:{color:'#27ae60',borderColor:'#000',borderWidth:1.4}},
    {name:'Last fix',icon:starIcon,itemStyle:{color:'#1f77b4',borderColor:'#000',borderWidth:1.4}}
   ]}),
 Object.assign({},legendBase,{left:89.3,top:425.7,padding:[3,5,3,2],itemWidth:27,itemHeight:12,itemGap:3.6,
   data:[
    {name:'\u00B11\u03C3 propagated error',icon:boxIcon(27,12,1.5,1.5,25.5,10.5),itemStyle:{color:'rgba(127,140,141,.35)',borderWidth:0}},
    {name:'Wind speed',icon:dotIcon(27,12,1.8),itemStyle:{color:'#2c3e50',borderWidth:0}},
    {name:'Daily mean',icon:boxIcon(27,12,1.5,5.2,25.5,6.9),itemStyle:{color:'#c0392b',borderWidth:0}}
   ]}),
 Object.assign({},legendBase,{left:1443,top:814.3,padding:[3.5,5,3.5,3],itemWidth:23,itemHeight:11,itemGap:4,
   data:[
    {name:'U (zonal)',icon:'rect',itemStyle:{color:'rgba(31,119,180,.65)',borderColor:'rgba(0,0,0,.7)',borderWidth:1.3}},
    {name:'V (meridional)',icon:'rect',itemStyle:{color:'rgba(255,127,14,.65)',borderColor:'rgba(0,0,0,.7)',borderWidth:1.3}}
   ]})
];
const scatter = (name,data,gi,color,size,z,extra) => Object.assign({
  type:'scatter',name,xAxisIndex:gi,yAxisIndex:gi,data,symbolSize:size,itemStyle:{color,opacity:1},z,silent:true
},extra||{});
const meanLine = (name,days,vals,gi) => ({type:'line',name,xAxisIndex:gi,yAxisIndex:gi,symbol:'none',silent:true,z:6,
  data:days.map((d,i)=>[toMs(d),vals[i]]),lineStyle:{color:'#c0392b',width:1.9},itemStyle:{color:'#c0392b'}});

const series = [
 ringSeries('Land',landRings,{fill:'#e8e8e4',stroke:'#c3c9cc',lineWidth:0.9},true,6),
 ringSeries('Inland seas',inlandSeas,{fill:'#d4e5f1',stroke:'#c3c9cc',lineWidth:0.7},true,6),
 ringSeries('Borders',borderLines,{fill:'none',stroke:'#dcdcd8',lineWidth:0.9},false,6),
 ringSeries('Graticule',graticule,{fill:'none',stroke:'rgba(120,120,120,.2)',lineWidth:0.8,lineDash:[4,3]},false,6),
 scatter('Track',trackLonLat,0,'#c0392b',5.4,7),
 scatter('Launch',[launchPoint],0,'#27ae60',16,8,{itemStyle:{color:'#27ae60',borderColor:'#000',borderWidth:1.4,opacity:1}}),
 scatter('Last fix',[lastFixPoint],0,'#1f77b4',21,9,{symbol:'path://'+star,itemStyle:{color:'#1f77b4',borderColor:'#000',borderWidth:1.4,opacity:1}}),
 {type:'custom',name:'\u00B11\u03C3 propagated error',xAxisIndex:1,yAxisIndex:1,z:2,silent:true,clip:true,
  itemStyle:{color:'rgba(127,140,141,.35)'},data:[[0]],encode:{x:-1,y:-1},
  renderItem:(p,api)=>{
    const up=bandDays.map((d,i)=>api.coord([toMs(d),bandHigh[i]]));
    const lo=bandDays.map((d,i)=>api.coord([toMs(d),bandLow[i]])).reverse();
    return {type:'polygon',shape:{points:up.concat(lo)},style:bandStyle};
  }},
 scatter('Wind speed',windSamples.map(p=>[toMs(p[0]),p[1]]),1,'#2c3e50',4.5,4),
 meanLine('Daily mean',windMeanDays,windMean,1),
 scatter('Latitude',latSamples.map(p=>[toMs(p[0]),p[1]]),2,'#000',4.8,4),
 scatter('Altitude',altSamples.map(p=>[toMs(p[0]),p[1]]),3,'#7f8c8d',4.3,4),
 meanLine('Altitude daily mean',altMeanDays,altMean,3),
 barSeries('U (zonal)',uBinStart,uCounts,'rgba(31,119,180,.65)',4,3),
 barSeries('V (meridional)',vBinStart,vCounts,'rgba(255,127,14,.65)',4,4)
];
const chart = echarts.init(document.getElementById('c'),null,{renderer:'canvas',width:1589,height:1189});
chart.setOption({animation:false,backgroundColor:'#fff',title:titles,grid:grids,xAxis:xAxes,yAxis:yAxes,legend:legends,series});
</script></body></html>
